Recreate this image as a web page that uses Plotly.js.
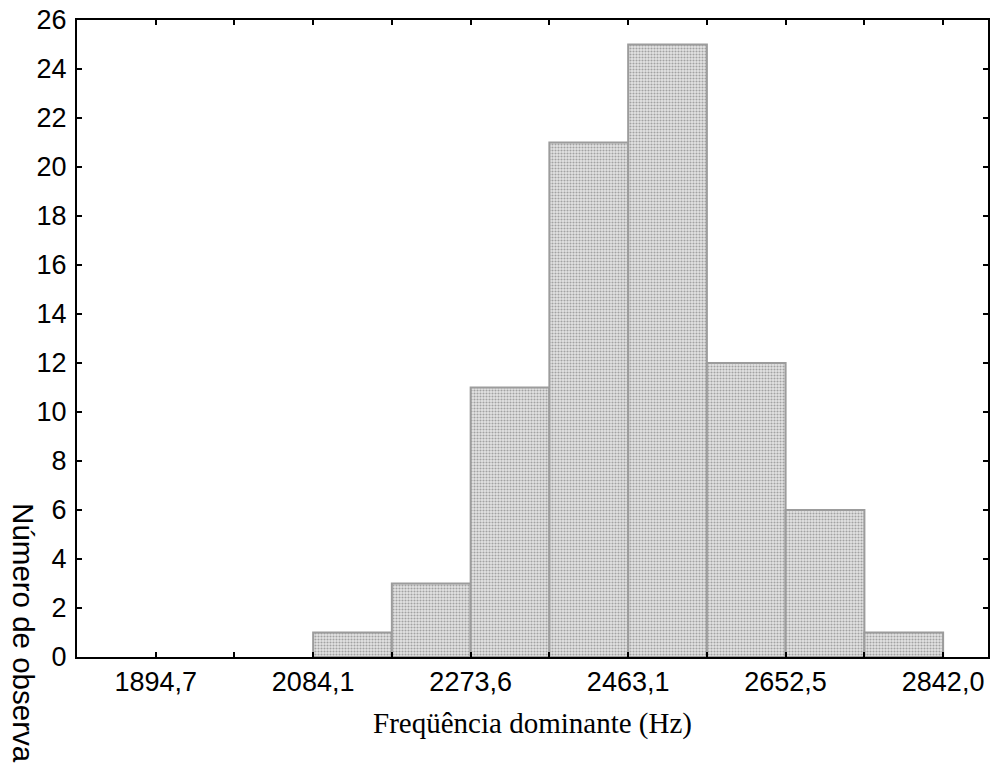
<!DOCTYPE html>
<html>
<head>
<meta charset="utf-8">
<script src="https://cdn.plot.ly/plotly-3.0.1.min.js"></script>
<style>
  html, body { margin: 0; padding: 0; background: #ffffff; }
  #chart { width: 994px; height: 763px; }
</style>
</head>
<body>
<div id="chart"></div>
<script>
// Histogram of dominant frequency (Hz)
const binLeft  = [2084.1, 2178.8, 2273.6, 2368.3, 2463.1, 2557.8, 2652.5, 2747.3];
const binRight = [2178.8, 2273.6, 2368.3, 2463.1, 2557.8, 2652.5, 2747.3, 2842.0];
const counts   = [1, 3, 11, 21, 25, 12, 6, 1];

// Axis ticks: every bin edge gets a tick mark, every second one a label
const tickValues = [1800.0, 1894.7, 1989.4, 2084.1, 2178.8, 2273.6, 2368.3, 2463.1,
                    2557.8, 2652.5, 2747.3, 2842.0];
const tickLabels = ["", "1894,7", "", "2084,1", "", "2273,6", "", "2463,1",
                    "", "2652,5", "", "2842,0"];
const yTicks = [0, 2, 4, 6, 8, 10, 12, 14, 16, 18, 20, 22, 24, 26];

const centers = binLeft.map((l, i) => (l + binRight[i]) / 2);
const widths  = binLeft.map((l, i) => binRight[i] - l);

const trace = {
  type: 'bar',
  x: centers,
  y: counts,
  width: widths,
  marker: {
    color: '#d6d6d6',
    line: { color: '#9c9c9c', width: 2 },
    pattern: { shape: '.', size: 3, solidity: 0.4, fgcolor: '#a2a2a2', bgcolor: '#e4e4e4' }
  },
  hoverinfo: 'x+y'
};

const tickFont = { family: 'Liberation Sans, Arial, sans-serif', size: 27, color: '#000000' };

const layout = {
  width: 994,
  height: 763,
  margin: { l: 77, r: 6, t: 20, b: 106 },
  paper_bgcolor: '#ffffff',
  plot_bgcolor: '#ffffff',
  showlegend: false,
  bargap: 0,
  xaxis: {
    range: [1800.0, 2896.0],
    tickmode: 'array',
    tickvals: tickValues,
    ticktext: tickLabels,
    ticks: 'inside',
    ticklen: 5,
    tickwidth: 2,
    tickcolor: '#000000',
    showline: true,
    linecolor: '#000000',
    linewidth: 2,
    mirror: 'ticks',
    showgrid: false,
    zeroline: false,
    tickfont: tickFont,
    title: {
      text: 'Freqüência dominante (Hz)',
      font: { family: 'Liberation Serif, Times New Roman, serif', size: 29, color: '#000000' },
      standoff: 16
    }
  },
  yaxis: {
    range: [0, 26],
    tickmode: 'array',
    tickvals: yTicks,
    ticktext: yTicks.map(String),
    ticks: 'inside',
    ticklen: 5,
    tickwidth: 2,
    tickcolor: '#000000',
    showline: true,
    linecolor: '#000000',
    linewidth: 2,
    mirror: 'ticks',
    showgrid: false,
    zeroline: false,
    ticklabelstandoff: 3,
    tickfont: tickFont
  },
  annotations: [{
    text: 'Número de observações',
    xref: 'paper', yref: 'paper',
    x: -0.0582, y: 0.244,
    xanchor: 'center', yanchor: 'top',
    textangle: 90,
    showarrow: false,
    font: { family: 'Liberation Sans, Arial, sans-serif', size: 29.5, color: '#000000' }
  }]
};

Plotly.newPlot('chart', [trace], layout, { displayModeBar: false, staticPlot: true });
</script>
</body>
</html>
